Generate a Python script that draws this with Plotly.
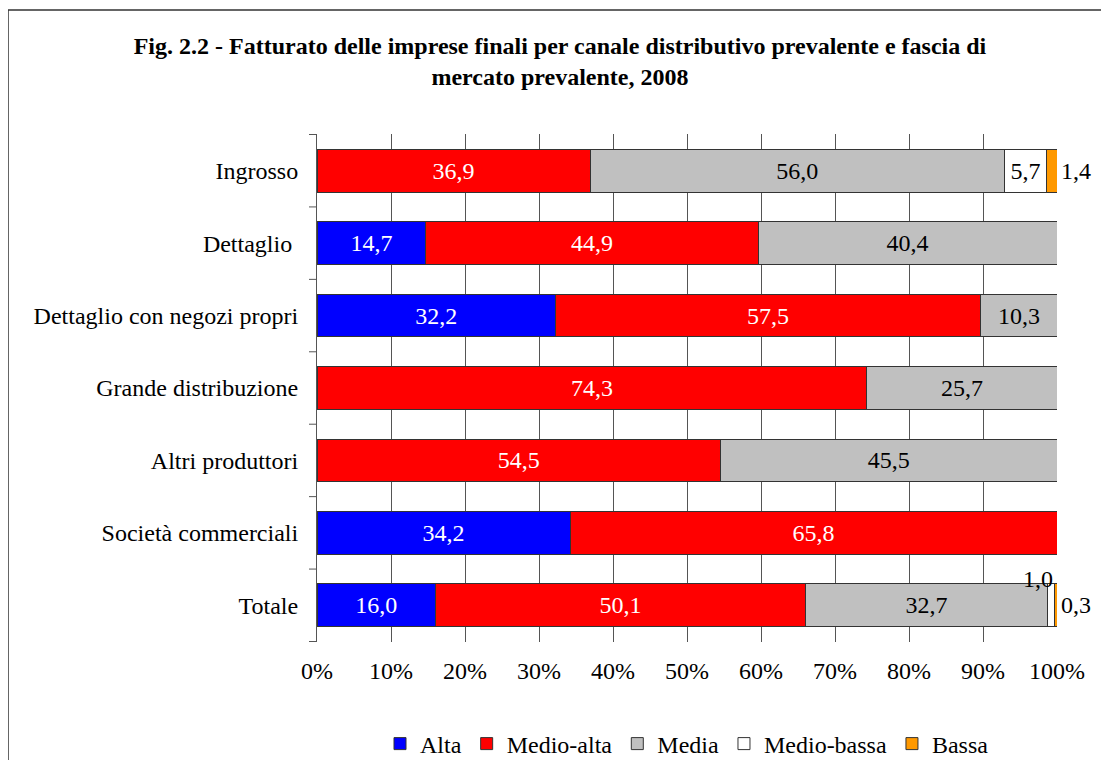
import plotly.graph_objects as go

# categories, top to bottom
channels = ["Ingrosso", "Dettaglio ", "Dettaglio con negozi propri", "Grande distribuzione",
            "Altri produttori", "Società commerciali", "Totale"]

alta = [0, 14.7, 32.2, 0, 0, 34.2, 16.0]
medio_alta = [36.9, 44.9, 57.5, 74.3, 54.5, 65.8, 50.1]
media = [56.0, 40.4, 10.3, 25.7, 45.5, 0, 32.7]
medio_bassa = [5.7, 0, 0, 0, 0, 0, 1.0]
bassa = [1.4, 0, 0, 0, 0, 0, 0.3]

series = [
    ("Alta", alta, "#0000FF", "white"),
    ("Medio-alta", medio_alta, "#FF0000", "white"),
    ("Media", media, "#C0C0C0", "black"),
    ("Medio-bassa", medio_bassa, "#FFFFFF", "black"),
    ("Bassa", bassa, "#FF9900", "black"),
]

FONT = "Liberation Serif"
FS = 24

# page has an 8px body margin, so everything is laid out 8px up/left
OFF = 8
W, H = 1109, 760
L, R, T, B = 317 - OFF, 52 + OFF, 134 - OFF, 118 + OFF
pw, ph = W - L - R, H - T - B


def fmt(v):
    return ("%.1f" % v).replace(".", ",")


fig = go.Figure()
for name, vals, color, tcol in series:
    texts = []
    for i, v in enumerate(vals):
        # tiny segments get their labels outside the bar
        if v == 0 or name == "Bassa" or (name == "Medio-bassa" and v < 2):
            texts.append("")
        else:
            texts.append(fmt(v))
    fig.add_trace(go.Bar(
        name=name, y=channels, x=vals, orientation="h",
        marker=dict(color=color, line=dict(color="#333333", width=1)),
        text=texts, textposition="inside", insidetextanchor="middle",
        textfont=dict(family=FONT, size=FS, color=tcol),
        width=0.59, cliponaxis=False,
    ))

# outside labels for tiny segments
for i, ch in enumerate(channels):
    if bassa[i] > 0:
        fig.add_annotation(x=100, y=ch, text=fmt(bassa[i]), showarrow=False,
                           xanchor="left", xshift=2, font=dict(family=FONT, size=FS, color="black"))
    if 0 < medio_bassa[i] < 2:
        fig.add_annotation(x=100 - bassa[i] - medio_bassa[i] / 2, y=ch, text=fmt(medio_bassa[i]),
                           showarrow=False, xanchor="right", xshift=4, yshift=26,
                           font=dict(family=FONT, size=FS, color="black"))

# category boundary ticks on the y axis
for k in range(len(channels) + 1):
    fig.add_shape(type="line", xref="paper", yref="y", x0=-8 / pw, x1=0,
                  y0=k - 0.5, y1=k - 0.5, line=dict(color="#555555", width=1))

# outer frame
fig.add_shape(type="rect", xref="paper", yref="paper",
              x0=(8 - OFF - L) / pw, x1=(W + 10 - L) / pw,
              y0=-(B + 10) / ph, y1=(ph + T - 10 + OFF) / ph,
              line=dict(color="#333333", width=1.5), layer="below")

fig.update_layout(
    width=W, height=H,
    barmode="stack", barnorm="percent",
    paper_bgcolor="white", plot_bgcolor="white",
    margin=dict(l=L, r=R, t=T, b=B),
    font=dict(family=FONT, size=FS, color="black"),
    title=dict(
        text="<b>Fig. 2.2 - Fatturato delle imprese finali per canale distributivo prevalente e fascia di<br>mercato prevalente, 2008</b>",
        x=(560 - OFF) / W, xanchor="center", y=1 - (54 - OFF) / H, yanchor="top",
        font=dict(family=FONT, size=FS, color="black"),
    ),
    legend=dict(orientation="h", x=(L + pw / 2) / W, xref="container", xanchor="center",
                y=(H - (744 - OFF)) / H, yref="container", yanchor="middle",
                font=dict(family=FONT, size=FS), traceorder="normal",
                itemwidth=30, tracegroupgap=0),
    showlegend=True,
)
fig.update_xaxes(range=[0, 100], dtick=10, ticksuffix="%", showgrid=True,
                 gridcolor="#555555", gridwidth=1, zeroline=False, showline=False,
                 ticks="", tickfont=dict(family=FONT, size=FS), ticklabelstandoff=12)
fig.update_yaxes(autorange="reversed", showline=True, linecolor="#555555", linewidth=1,
                 ticks="", ticklabelstandoff=13, tickfont=dict(family=FONT, size=FS),
                 range=[len(channels) - 0.5, -0.5])

fig.write_html("out.html")
